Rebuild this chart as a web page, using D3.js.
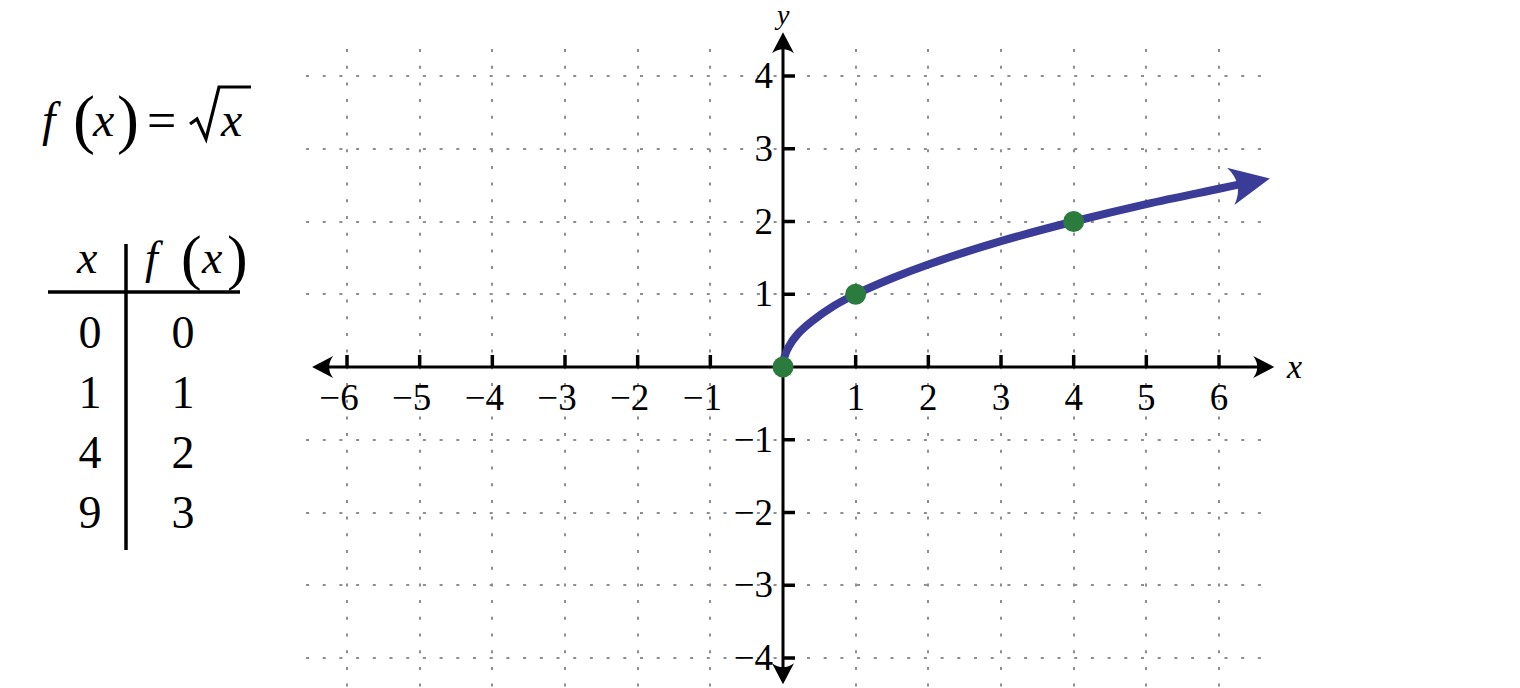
<!DOCTYPE html>
<html>
<head>
<meta charset="utf-8">
<script src="https://cdn.jsdelivr.net/npm/d3@7"></script>
<style>
  body { margin: 0; background: #fff; }
  svg { display: block; font-family: "Liberation Serif", "DejaVu Serif", serif; }
</style>
</head>
<body>
<svg id="plot" width="1520" height="688"></svg>
<script>
// values
var xTicks = [-6, -5, -4, -3, -2, -1, 1, 2, 3, 4, 5, 6];
var yTicks = [-4, -3, -2, -1, 1, 2, 3, 4];
var tableX = ["0", "1", "4", "9"];
var tableFx = ["0", "1", "2", "3"];
var markedX = [0, 1, 4];
var markedY = [0, 1, 2];
// points along the drawn curve
var curveX = [0, 0.02, 0.08, 0.2, 0.4, 0.7, 1, 1.5, 2, 3, 4, 5, 6, 6.7];
var curveY = [0, 0.14, 0.28, 0.45, 0.63, 0.84, 1, 1.22, 1.41, 1.73, 2, 2.24, 2.45, 2.59];

var svg = d3.select("#plot");

var x = d3.scaleLinear().domain([-6, 6]).range([347, 1219]);
var y = d3.scaleLinear().domain([-4, 4]).range([658, 76]);

var grey = "#8e8e8e";
var blue = "#3b3b98";
var green = "#2a7b3d";

// dotted grid
var grid = svg.append("g");
grid.selectAll("line.v")
  .data(xTicks)
  .enter().append("line")
  .attr("class", "v")
  .attr("x1", d => Math.round(x(d))).attr("x2", d => Math.round(x(d)))
  .attr("y1", 49).attr("y2", 688)
  .attr("stroke", grey).attr("stroke-width", 2)
  .attr("stroke-dasharray", "3,13.7");
grid.selectAll("line.h")
  .data(yTicks)
  .enter().append("line")
  .attr("class", "h")
  .attr("x1", 306).attr("x2", 1262)
  .attr("y1", d => Math.round(y(d))).attr("y2", d => Math.round(y(d)))
  .attr("stroke", grey).attr("stroke-width", 2)
  .attr("stroke-dasharray", "3,13.7");

// axes
var axes = svg.append("g");
axes.append("line")
  .attr("x1", x(-6.35)).attr("x2", x(6.6))
  .attr("y1", y(0)).attr("y2", y(0))
  .attr("stroke", "#000").attr("stroke-width", 3);
axes.append("line")
  .attr("x1", x(0)).attr("x2", x(0))
  .attr("y1", y(4.4)).attr("y2", y(-4.2))
  .attr("stroke", "#000").attr("stroke-width", 3);

function axisHead(tx, ty, angle) {
  axes.append("path")
    .attr("d", "M0,0 L-21,-11 Q-13,0 -21,11 Z")
    .attr("transform", "translate(" + tx + "," + ty + ") rotate(" + angle + ")")
    .attr("fill", "#000");
}
axisHead(x(6.76), y(0), 0);
axisHead(x(-6.48), y(0), 180);
axisHead(x(0), y(4.6), -90);
axisHead(x(0), y(-4.36), 90);

// tick marks
axes.selectAll("line.xt")
  .data(xTicks)
  .enter().append("line")
  .attr("x1", d => x(d)).attr("x2", d => x(d))
  .attr("y1", y(0) - 12).attr("y2", y(0))
  .attr("stroke", "#000").attr("stroke-width", 3.5);
axes.selectAll("line.yt")
  .data(yTicks)
  .enter().append("line")
  .attr("x1", x(0)).attr("x2", x(0) + 12)
  .attr("y1", d => y(d)).attr("y2", d => y(d))
  .attr("stroke", "#000").attr("stroke-width", 3.5);

// tick labels
function fmt(d) { return d < 0 ? "\u2212" + Math.abs(d) : String(d); }
axes.selectAll("text.xl")
  .data(xTicks)
  .enter().append("text")
  .attr("x", d => x(d) + (d < 0 ? -8 : 0))
  .attr("y", 410)
  .attr("text-anchor", "middle")
  .attr("font-size", 37)
  .text(fmt);
axes.selectAll("text.yl")
  .data(yTicks)
  .enter().append("text")
  .attr("x", x(0) - 10)
  .attr("y", d => y(d) + 12)
  .attr("text-anchor", "end")
  .attr("font-size", 37)
  .text(fmt);

axes.append("text")
  .attr("x", 1287).attr("y", 378)
  .attr("font-size", 34).attr("font-style", "italic")
  .text("x");
axes.append("text")
  .attr("x", 777).attr("y", 24)
  .attr("font-size", 28).attr("font-style", "italic")
  .text("y");

// curve
var curvePts = curveX.map((d, i) => [d, curveY[i]]);
var line = d3.line()
  .x(d => x(d[0]))
  .y(d => y(d[1]))
  .curve(d3.curveCatmullRom.alpha(0.5));

svg.append("path")
  .datum(curvePts.slice(0, -1).concat([[6.5, 2.555]]))
  .attr("d", line)
  .attr("fill", "none")
  .attr("stroke", blue)
  .attr("stroke-width", 8);

var p1 = curvePts[curvePts.length - 2], p2 = curvePts[curvePts.length - 1];
var ang = Math.atan2(y(p2[1]) - y(p1[1]), x(p2[0]) - x(p1[0])) * 180 / Math.PI;
svg.append("path")
  .attr("d", "M0,0 L-40,-19 Q-26,0 -40,19 Z")
  .attr("transform", "translate(" + x(p2[0]) + "," + y(p2[1]) + ") rotate(" + ang + ")")
  .attr("fill", blue);

// marked points
svg.selectAll("circle.pt")
  .data(markedX)
  .enter().append("circle")
  .attr("cx", d => x(d))
  .attr("cy", (d, i) => y(markedY[i]))
  .attr("r", 10.5)
  .attr("fill", green);

// equation f(x) = sqrt(x)
var eq = svg.append("g").attr("font-size", 48);
eq.append("text").attr("x", 42).attr("y", 136).attr("font-style", "italic").text("f");
eq.append("text").attr("x", 73).attr("y", 141).attr("font-size", 66).text("(");
eq.append("text").attr("x", 93).attr("y", 136).attr("font-style", "italic").text("x");
eq.append("text").attr("x", 117).attr("y", 141).attr("font-size", 66).text(")");
eq.append("text").attr("x", 147).attr("y", 138).attr("font-size", 52).text("=");
eq.append("path")
  .attr("d", "M190,124 L197,119 L206,139 L219,87 L251,87")
  .attr("fill", "none").attr("stroke", "#000").attr("stroke-width", 3.2)
  .attr("stroke-linejoin", "miter");
eq.append("text").attr("x", 221).attr("y", 136).attr("font-style", "italic").text("x");

// table
var tbl = svg.append("g").attr("font-size", 46);
tbl.append("line")
  .attr("x1", 48).attr("x2", 240).attr("y1", 292).attr("y2", 292)
  .attr("stroke", "#000").attr("stroke-width", 3.5);
tbl.append("line")
  .attr("x1", 126).attr("x2", 126).attr("y1", 244).attr("y2", 550)
  .attr("stroke", "#000").attr("stroke-width", 3.5);
tbl.append("text").attr("x", 77).attr("y", 273).attr("font-style", "italic").text("x");
tbl.append("text").attr("x", 145).attr("y", 273).attr("font-style", "italic").text("f");
tbl.append("text").attr("x", 181).attr("y", 278).attr("font-size", 62).text("(");
tbl.append("text").attr("x", 202).attr("y", 273).attr("font-style", "italic").text("x");
tbl.append("text").attr("x", 227).attr("y", 278).attr("font-size", 62).text(")");

var rowY = d3.scaleBand().domain(d3.range(tableX.length)).range([318, 558]);
tbl.selectAll("text.cx")
  .data(tableX)
  .enter().append("text")
  .attr("x", 90)
  .attr("y", (d, i) => rowY(i) + 30)
  .attr("text-anchor", "middle")
  .text(d => d);
tbl.selectAll("text.cf")
  .data(tableFx)
  .enter().append("text")
  .attr("x", 183)
  .attr("y", (d, i) => rowY(i) + 30)
  .attr("text-anchor", "middle")
  .text(d => d);
</script>
</body>
</html>
